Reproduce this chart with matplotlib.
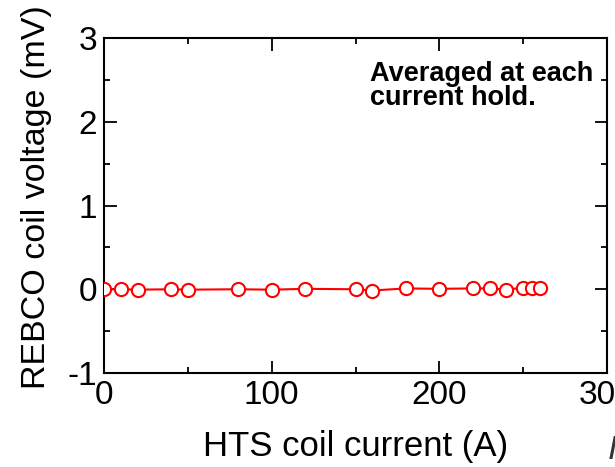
import matplotlib
matplotlib.use('Agg')
import matplotlib.pyplot as plt
from matplotlib.ticker import MultipleLocator

plt.rcParams['font.family'] = ['Liberation Sans', 'DejaVu Sans']
plt.rcParams['axes.unicode_minus'] = False

# HTS coil current (A) and averaged REBCO coil voltage (mV)
current = [0, 10, 20, 40, 50, 80, 100, 120, 150, 160, 180, 200, 220, 230, 240, 250, 255, 260]
voltage = [0.0, 0.0, -0.005, 0.0, -0.005, 0.0, -0.005, 0.005, 0.0, -0.015,
           0.01, 0.005, 0.01, 0.01, -0.005, 0.02, 0.02, 0.01]

x_label = 'HTS coil current (A)'
y_label = 'REBCO coil voltage (mV)'
note = 'Averaged at each\ncurrent hold.'

W, H = 615, 467
fig = plt.figure(figsize=(W / 100, H / 100), dpi=100)
ax = fig.add_axes([104 / W, (H - 373) / H, (607 - 104) / W, (373 - 38) / H])

ax.plot(current, voltage, color='#ff0000', lw=1.5, marker='o', ms=9.5,
        mfc='white', mec='#ff0000', mew=1.5, zorder=3)

ax.set_xlim(0, 300)
ax.set_ylim(-1, 3)
ax.xaxis.set_major_locator(MultipleLocator(100))
ax.xaxis.set_minor_locator(MultipleLocator(50))
ax.yaxis.set_major_locator(MultipleLocator(1))
ax.yaxis.set_minor_locator(MultipleLocator(0.5))

for s in ax.spines.values():
    s.set_linewidth(1.5)
ax.tick_params(which='both', direction='in', top=True, right=True,
               labelsize=24, width=1.3, pad=5)
ax.tick_params(which='major', length=9)
ax.tick_params(which='minor', length=4.5)

ax.set_xlabel(x_label, fontsize=25, labelpad=14)
ax.set_ylabel(y_label, fontsize=24.5)
ax.yaxis.set_label_coords(-52 / (607 - 104), (373 - 197.5) / (373 - 38))

ax.text(370 / W, (H - 61) / H, note, transform=fig.transFigure,
        fontsize=19.5, fontweight='bold', va='top', ha='left', linespacing=0.9)

# fragment of text cut off at the image edge
fig.text(608 / W, 8 / H, 'I', fontsize=24, style='italic', color='#333333')

fig.savefig('out.png', dpi=100)
